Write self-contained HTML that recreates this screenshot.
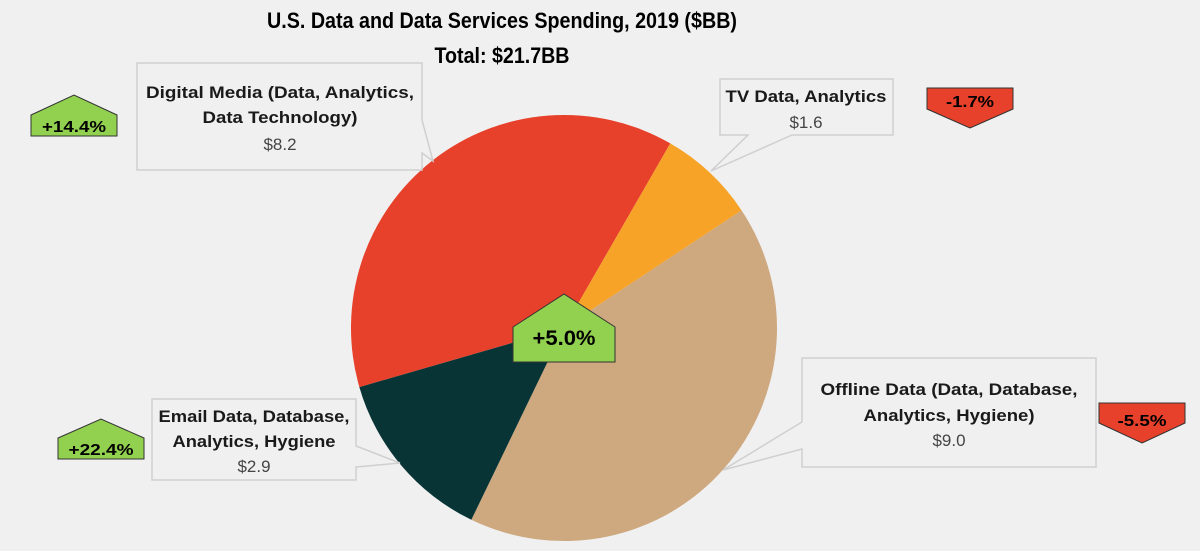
<!DOCTYPE html>
<html><head><meta charset="utf-8">
<style>
html,body{margin:0;padding:0;background:#f0f0f0;}
svg{display:block;font-family:"Liberation Sans",sans-serif;}
.b{font-weight:bold;font-size:17px;fill:#1a1a1a;}
.v{font-size:17px;fill:#444;}
.box{fill:#f0f0f0;stroke:#cfcfcf;stroke-width:1.5;}
.bt{font-size:16px;font-weight:bold;}
</style></head>
<body>
<svg id="chart" width="1200" height="551" viewBox="0 0 1200 551">
  <text x="502" y="28" text-anchor="middle" font-size="22" font-weight="bold" textLength="470" lengthAdjust="spacingAndGlyphs">U.S. Data and Data Services Spending, 2019 ($BB)</text>
  <text x="502" y="63" text-anchor="middle" font-size="22" font-weight="bold" textLength="135" lengthAdjust="spacingAndGlyphs">Total: $21.7BB</text>
  <g id="slices"></g>

  <g>
    <path class="box" d="M137,63 H422 V120 L433,161 L422,153 V170 H137 Z"/>
    <text class="b" x="280" y="98" text-anchor="middle" textLength="268" lengthAdjust="spacingAndGlyphs">Digital Media (Data, Analytics,</text>
    <text class="b" x="280" y="123" text-anchor="middle" textLength="155" lengthAdjust="spacingAndGlyphs">Data Technology)</text>
    <text class="v" x="280" y="150" text-anchor="middle" textLength="33" lengthAdjust="spacingAndGlyphs">$8.2</text>
  </g>
  <g>
    <path class="box" d="M720,79 H893 V135 H792 L711,171 L748,135 H720 Z"/>
    <text class="b" x="806" y="102" text-anchor="middle" textLength="161" lengthAdjust="spacingAndGlyphs">TV Data, Analytics</text>
    <text class="v" x="806" y="128" text-anchor="middle" textLength="33" lengthAdjust="spacingAndGlyphs">$1.6</text>
  </g>
  <g>
    <path class="box" d="M802,358 H1096 V467 H802 V449 L723,470 L802,422 Z"/>
    <text class="b" x="949" y="395" text-anchor="middle" textLength="257" lengthAdjust="spacingAndGlyphs">Offline Data (Data, Database,</text>
    <text class="b" x="949" y="421" text-anchor="middle" textLength="171" lengthAdjust="spacingAndGlyphs">Analytics, Hygiene)</text>
    <text class="v" x="949" y="446" text-anchor="middle" textLength="33" lengthAdjust="spacingAndGlyphs">$9.0</text>
  </g>
  <g>
    <path class="box" d="M152,399 H356 V446 L400,463 L356,467 V480 H152 Z"/>
    <text class="b" x="254" y="422" text-anchor="middle" textLength="191" lengthAdjust="spacingAndGlyphs">Email Data, Database,</text>
    <text class="b" x="254" y="447" text-anchor="middle" textLength="163" lengthAdjust="spacingAndGlyphs">Analytics, Hygiene</text>
    <text class="v" x="254" y="472" text-anchor="middle" textLength="33" lengthAdjust="spacingAndGlyphs">$2.9</text>
  </g>

  <g>
    <path d="M513,327 L564,294 L615,327 V362 H513 Z" fill="#92d050" stroke="#333" stroke-width="1"/>
    <text x="564" y="345" text-anchor="middle" font-size="21" font-weight="bold" textLength="63" lengthAdjust="spacingAndGlyphs">+5.0%</text>
  </g>
  <g>
    <path d="M31,115 L74,95 L117,115 V136 H31 Z" fill="#92d050" stroke="#333" stroke-width="1"/>
    <text class="bt" x="74" y="132" text-anchor="middle" textLength="64" lengthAdjust="spacingAndGlyphs">+14.4%</text>
  </g>
  <g>
    <path d="M927,88 H1013 V109 L970,128 L927,109 Z" fill="#e8412b" stroke="#333" stroke-width="1"/>
    <text class="bt" x="970" y="107" text-anchor="middle" textLength="48" lengthAdjust="spacingAndGlyphs">-1.7%</text>
  </g>
  <g>
    <path d="M1099,403 H1185 V423 L1142,443 L1099,423 Z" fill="#e8412b" stroke="#333" stroke-width="1"/>
    <text class="bt" x="1142" y="426" text-anchor="middle" textLength="49" lengthAdjust="spacingAndGlyphs">-5.5%</text>
  </g>
  <g>
    <path d="M58,438 L101,419 L144,438 V459 H58 Z" fill="#92d050" stroke="#333" stroke-width="1"/>
    <text class="bt" x="101" y="455" text-anchor="middle" textLength="65" lengthAdjust="spacingAndGlyphs">+22.4%</text>
  </g>
</svg>
<script>
const categories = ["Digital Media", "TV Data, Analytics", "Offline Data", "Email Data"];
const values = [8.2, 1.6, 9.0, 2.9];
const colors = ["#e8412b", "#f6a328", "#cea87f", "#093436"];
const cx = 564, cy = 328, r = 213, startDeg = -106.1;
const total = values.reduce((a, b) => a + b, 0);
const g = document.getElementById('slices');
let a0 = startDeg;
function pt(deg) { const t = deg * Math.PI / 180; return [cx + r * Math.sin(t), cy - r * Math.cos(t)]; }
values.forEach((v, i) => {
  const sweep = v / total * 360;
  const a1 = a0 + sweep;
  const p0 = pt(a0), p1 = pt(a1);
  const path = document.createElementNS('http://www.w3.org/2000/svg', 'path');
  path.setAttribute('d', `M${cx},${cy} L${p0[0]},${p0[1]} A${r},${r} 0 ${sweep > 180 ? 1 : 0} 1 ${p1[0]},${p1[1]} Z`);
  path.setAttribute('fill', colors[i]);
  
  
  g.appendChild(path);
  a0 = a1;
});
</script>
</body></html>
